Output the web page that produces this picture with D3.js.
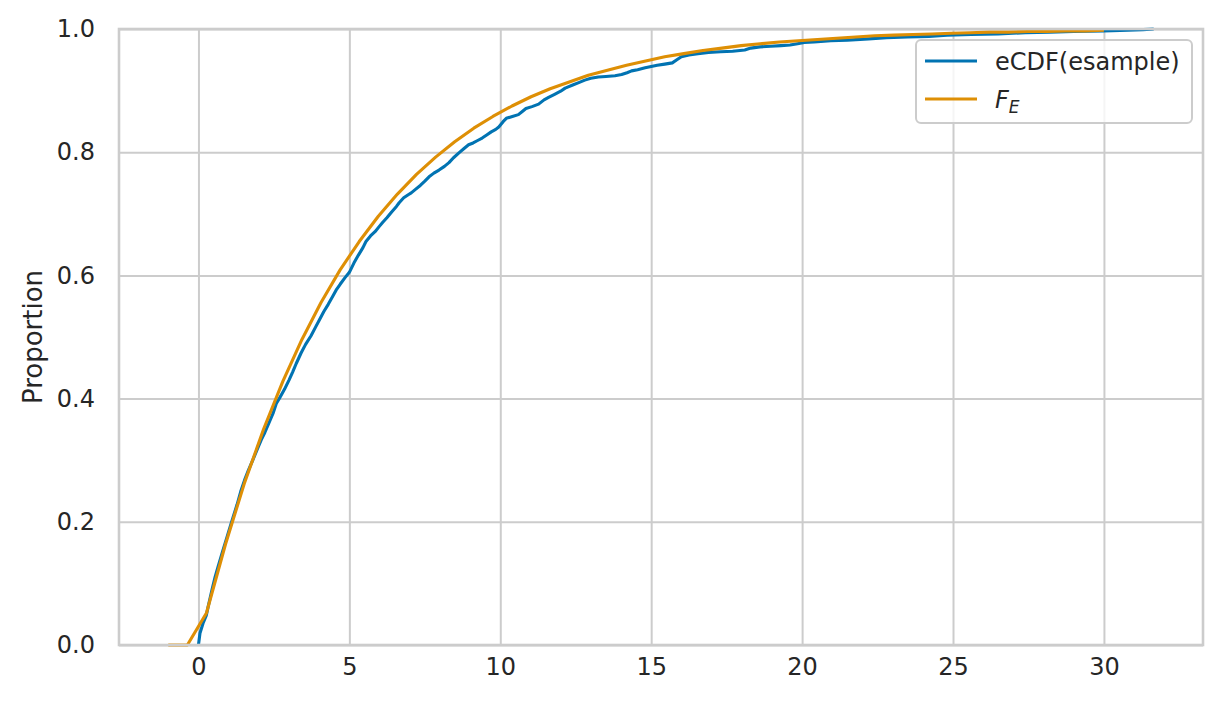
<!DOCTYPE html>
<html>
<head>
<meta charset="utf-8">
<script src="https://cdn.jsdelivr.net/npm/d3@7"></script>
<style>
  html, body { margin: 0; padding: 0; background: #ffffff; }
  svg { display: block; font-family: "DejaVu Sans", sans-serif; }
</style>
</head>
<body>
<svg id="chart" width="1223" height="712"></svg>
<script>
// ---- data ----
const ecdfX = [0.00,0.05,0.15,0.26,0.32,0.45,0.55,0.65,0.80,0.95,1.05,1.15,1.28,1.40,1.53,1.65,1.80,1.95,2.08,2.20,2.35,2.47,2.58,2.70,2.85,3.00,3.12,3.24,3.40,3.55,3.73,3.88,4.01,4.15,4.30,4.45,4.56,4.70,4.85,5.00,5.15,5.30,5.45,5.55,5.70,5.85,6.00,6.10,6.25,6.40,6.56,6.65,6.80,6.95,7.05,7.20,7.35,7.50,7.64,7.80,7.97,8.15,8.30,8.45,8.63,8.80,8.95,9.10,9.25,9.40,9.55,9.70,9.85,9.95,10.10,10.20,10.40,10.60,10.75,10.85,11.05,11.27,11.45,11.60,11.80,12.00,12.15,12.40,12.60,12.80,13.00,13.25,13.50,13.80,14.02,14.20,14.35,14.55,14.80,15.00,15.20,15.45,15.70,15.85,16.00,16.25,16.55,16.90,17.30,17.70,18.10,18.30,18.60,18.96,19.30,19.60,19.85,20.07,20.40,20.95,21.50,22.20,22.80,23.50,24.20,24.80,25.60,26.50,27.40,28.20,29.00,30.00,30.80,31.30,31.65];
const ecdfP = [0.000,0.019,0.035,0.048,0.062,0.090,0.110,0.127,0.152,0.176,0.192,0.208,0.228,0.249,0.268,0.283,0.300,0.318,0.333,0.345,0.362,0.376,0.392,0.402,0.415,0.430,0.443,0.457,0.474,0.488,0.502,0.516,0.528,0.541,0.553,0.566,0.576,0.586,0.596,0.605,0.620,0.633,0.645,0.655,0.664,0.671,0.680,0.686,0.694,0.703,0.712,0.718,0.726,0.731,0.734,0.740,0.746,0.753,0.760,0.766,0.771,0.777,0.783,0.791,0.799,0.806,0.812,0.815,0.819,0.823,0.828,0.833,0.837,0.841,0.850,0.855,0.858,0.861,0.867,0.871,0.874,0.878,0.885,0.889,0.894,0.899,0.904,0.909,0.913,0.917,0.920,0.922,0.923,0.924,0.926,0.929,0.932,0.934,0.937,0.939,0.941,0.943,0.945,0.950,0.955,0.958,0.960,0.962,0.963,0.964,0.966,0.969,0.971,0.972,0.973,0.974,0.976,0.978,0.979,0.981,0.982,0.984,0.986,0.987,0.988,0.990,0.991,0.992,0.994,0.995,0.996,0.997,0.998,0.999,1.000];

const fX = [-1.000,-0.367,0.265,0.898,1.531,2.163,2.796,3.429,4.061,4.694,5.327,5.959,6.592,7.224,7.857,8.490,9.122,9.755,10.388,11.020,11.653,12.286,12.918,13.551,14.184,14.816,15.449,16.082,16.714,17.347,17.980,18.612,19.245,19.878,20.510,21.143,21.776,22.408,23.041,23.673,24.306,24.939,25.571,26.204,26.837,27.469,28.102,28.735,29.367,30.000];
const fP = [0.000,0.000,0.052,0.164,0.264,0.351,0.428,0.496,0.556,0.609,0.655,0.696,0.732,0.764,0.792,0.817,0.839,0.858,0.875,0.890,0.903,0.914,0.925,0.933,0.941,0.948,0.955,0.960,0.965,0.969,0.973,0.976,0.979,0.981,0.983,0.985,0.987,0.989,0.990,0.991,0.992,0.993,0.994,0.995,0.995,0.996,0.996,0.997,0.997,0.998];

const xTicks = [0, 5, 10, 15, 20, 25, 30];
const yTicks = [0, 0.2, 0.4, 0.6, 0.8, 1.0];
const yLabel = "Proportion";
const seriesNames = ["eCDF(esample)", "F"];
const seriesSub = ["", "E"];
const colors = ["#0173b2", "#de8f05"];

// ---- layout ----
const M = { left: 119, right: 1203, top: 29, bottom: 645 };
const svg = d3.select("#chart");

const allX = ecdfX.concat(fX);
const [xmin, xmax] = d3.extent(allX);
const pad = (xmax - xmin) * 0.05;
const x = d3.scaleLinear().domain([xmin - pad, xmax + pad]).range([M.left, M.right]);
const y = d3.scaleLinear().domain([0, 1]).range([M.bottom, M.top]);

const gridColor = "#cccccc";
const textColor = "#262626";
const tickFont = 24;

// grid
const gx = svg.append("g")
  .attr("transform", `translate(0,${M.bottom})`)
  .call(d3.axisBottom(x).tickValues(xTicks).tickSize(-(M.bottom - M.top)).tickFormat(d3.format("d")).tickPadding(13));
gx.select(".domain").remove();
gx.selectAll("line").attr("stroke", gridColor).attr("stroke-width", 2);
gx.selectAll("text").attr("fill", textColor).attr("font-size", tickFont).attr("font-family", "DejaVu Sans");

const gy = svg.append("g")
  .attr("transform", `translate(${M.left},0)`)
  .call(d3.axisLeft(y).tickValues(yTicks).tickSize(-(M.right - M.left)).tickFormat(d3.format(".1f")).tickPadding(24));
gy.select(".domain").remove();
gy.selectAll("line").attr("stroke", gridColor).attr("stroke-width", 2);
gy.selectAll("text").attr("fill", textColor).attr("font-size", tickFont).attr("font-family", "DejaVu Sans");

// lines
const ecdfData = ecdfX.map((v, i) => [v, ecdfP[i]]);
const fData = fX.map((v, i) => [v, fP[i]]);

svg.append("path")
  .datum(ecdfData)
  .attr("fill", "none")
  .attr("stroke", colors[0])
  .attr("stroke-width", 3.1)
  .attr("stroke-linejoin", "round")
  .attr("d", d3.line().x(d => x(d[0])).y(d => y(d[1])));

svg.append("path")
  .datum(fData)
  .attr("fill", "none")
  .attr("stroke", colors[1])
  .attr("stroke-width", 3.1)
  .attr("stroke-linejoin", "round")
  .attr("d", d3.line().x(d => x(d[0])).y(d => y(d[1])));

// spines
svg.append("rect")
  .attr("x", M.left).attr("y", M.top)
  .attr("width", M.right - M.left).attr("height", M.bottom - M.top)
  .attr("fill", "none").attr("stroke", gridColor).attr("stroke-width", 2.6);

// y label
svg.append("text")
  .attr("transform", `translate(42,${(M.top + M.bottom) / 2}) rotate(-90)`)
  .attr("text-anchor", "middle")
  .attr("fill", textColor)
  .attr("font-size", 26)
  .text(yLabel);

// legend
const lg = svg.append("g");
lg.append("rect")
  .attr("x", 916).attr("y", 40).attr("width", 276).attr("height", 83)
  .attr("rx", 5).attr("ry", 5)
  .attr("fill", "#ffffff").attr("fill-opacity", 0.8)
  .attr("stroke", gridColor).attr("stroke-width", 2);

seriesNames.forEach((name, i) => {
  const cy = 61 + i * 38;
  lg.append("line")
    .attr("x1", 925).attr("x2", 977).attr("y1", cy).attr("y2", cy)
    .attr("stroke", colors[i]).attr("stroke-width", 3.1);
  const t = lg.append("text")
    .attr("x", 995).attr("y", cy + 9)
    .attr("fill", textColor).attr("font-size", tickFont);
  if (seriesSub[i]) {
    t.append("tspan").attr("font-style", "italic").text(name);
    t.append("tspan").attr("font-style", "italic").attr("font-size", 17).attr("dy", 5).text(seriesSub[i]);
  } else {
    t.text(name);
  }
});
</script>
</body>
</html>
